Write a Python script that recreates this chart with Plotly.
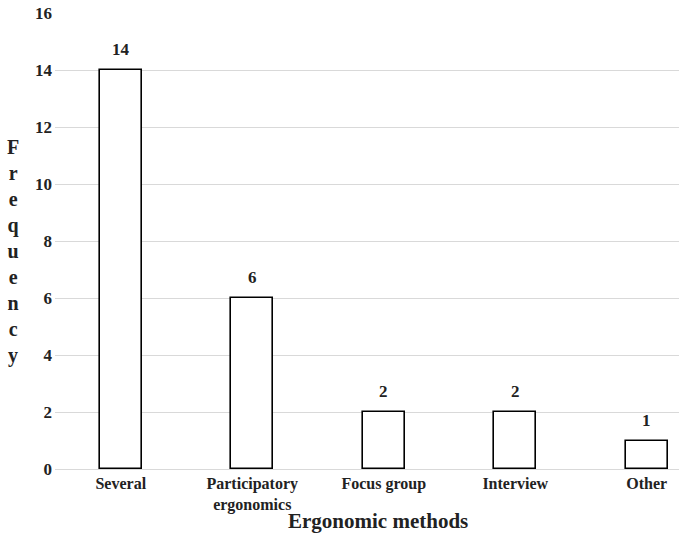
import plotly.graph_objects as go

categories = ["Several", "Participatory<br>ergonomics", "Focus group", "Interview", "Other"]
values = [14, 6, 2, 2, 1]
y_ticks = [0, 2, 4, 6, 8, 10, 12, 14, 16]

FONT = "Liberation Serif"
TXT = "#222"

fig = go.Figure()
fig.add_trace(go.Bar(
    x=list(range(len(categories))),
    y=values,
    width=0.32,
    marker=dict(color="white", line=dict(color="black", width=1.6)),
    cliponaxis=False,
    hoverinfo="skip",
))

for i, v in enumerate(values):
    fig.add_annotation(
        x=i, y=v, xref="x", yref="y", text=str(v), showarrow=False,
        yanchor="bottom", yshift=9,
        font=dict(family=FONT, size=17, color=TXT, weight="bold"),
    )

fig.update_layout(
    width=679, height=536,
    margin=dict(l=55, r=0, t=13, b=67, autoexpand=False),
    plot_bgcolor="white", paper_bgcolor="white",
    showlegend=False,
    bargap=0,
    xaxis=dict(
        range=[-0.5, 4.245],
        tickmode="array",
        tickvals=list(range(len(categories))),
        ticktext=categories,
        tickfont=dict(family=FONT, size=16, color=TXT, weight="bold"),
        showgrid=False, showline=False, zeroline=False, ticks="",
        automargin=False, ticklabelstandoff=3,
    ),
    yaxis=dict(
        range=[0, 16],
        tickmode="array",
        tickvals=y_ticks,
        tickfont=dict(family=FONT, size=17, color=TXT, weight="bold"),
        showgrid=True, gridcolor="#d9d9d9", gridwidth=1.3,
        zeroline=True, zerolinecolor="#d9d9d9", zerolinewidth=1.3,
        showline=False, ticks="", ticklabelstandoff=2,
        automargin=False,
    ),
)

fig.add_annotation(
    text="<br>".join(list("Frequency")),
    xref="paper", yref="paper", x=-0.068, y=0.477,
    xanchor="center", yanchor="middle", showarrow=False,
    font=dict(family=FONT, size=20, color=TXT, weight="bold"),
)
fig.add_annotation(
    text="Ergonomic methods",
    xref="paper", yref="paper", x=0.517, y=-0.113,
    xanchor="center", yanchor="middle", showarrow=False,
    font=dict(family=FONT, size=21, color=TXT, weight="bold"),
)

fig.write_html("out.html", config={"displayModeBar": False},
               post_script="document.body.style.margin='0';")
